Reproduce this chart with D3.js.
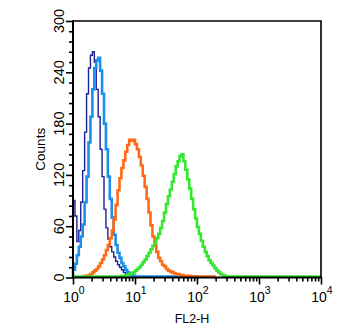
<!DOCTYPE html>
<html><head><meta charset="utf-8">
<script src="https://cdn.jsdelivr.net/npm/d3@7"></script>
<style>html,body{margin:0;padding:0;background:#fff;}svg{display:block;}</style>
</head><body>
<script>
// ---- data ----
const binWidthDecades = 1 / 32;        // histogram channel width (log10 units)
const xDecades = [0, 1, 2, 3, 4];       // 10^0 .. 10^4
const yTicks = [0, 60, 120, 180, 240, 300];
const yLabel = "Counts";
const xLabel = "FL2-H";

const navyStart = 0;
const navyCounts = [90, 72, 42, 55, 88, 125, 170, 215, 245, 260, 264, 252, 220, 188, 150, 118,
  80, 58, 45, 36, 30, 24, 19, 15, 12, 9, 6, 4, 3, 2, 2, 1, 1, 0];

const blueStart = 0;
const blueCounts = [9, 16, 26, 36, 48, 62, 88, 118, 158, 188, 220, 245, 254, 257, 242, 215,
  180, 150, 118, 92, 70, 50, 38, 29, 23, 17, 13, 9, 6, 4, 3, 2, 1, 1, 1, 1, 1, 1, 1, 1,
  1, 1, 1, 1, 1, 1, 1, 1, 1, 1, 1, 1, 1, 1, 1, 1, 1, 1, 1, 1, 1, 1, 1, 1, 0];

const orangeStart = 5;
const orangeCounts = [1, 2, 2, 3, 4, 6, 8, 10, 13, 17, 21, 26, 32, 38, 46, 55, 68, 85, 102, 116,
  128, 137, 147, 155, 161, 160, 161, 156, 150, 141, 131, 119, 106, 92, 76, 61, 48, 38, 30, 23,
  19, 15, 13, 10, 8, 7, 6, 5, 4, 4, 3, 3, 2, 2, 2, 2, 1, 1, 1, 1, 1, 1, 1, 1, 1, 1, 1, 1, 0];

const greenStart = 0;
const greenCounts = [1, 1, 1, 1, 1, 1, 1, 1, 1, 1, 1, 1, 1, 1, 1, 1, 1, 1, 1, 1, 1, 1, 1, 1, 1,
  2, 2, 3, 3, 4, 5, 6, 8, 10, 12, 15, 18, 21, 25, 29, 33, 37, 41, 46, 51, 58, 66, 76, 86, 95,
  103, 112, 121, 130, 136, 142, 144, 136, 126, 115, 104, 92, 80, 69, 59, 51, 43, 36, 30, 25,
  20, 17, 14, 11, 8, 6, 4, 3, 2, 1, 1, 1, 1, 1, 1, 1, 1, 1, 1, 1, 1, 1, 1, 1, 1, 1, 1, 1, 1,
  1, 1, 1, 1, 1, 1, 1, 1, 1, 1, 1, 1, 1, 1, 1, 1, 1, 1, 1, 1, 1, 1, 1, 1, 1, 1, 1, 1, 1];

const seriesList = [
  {name: "control", start: navyStart, counts: navyCounts, color: "#1f1f96", width: 1.4},
  {name: "isotype", start: blueStart, counts: blueCounts, color: "#1b8fea", width: 2.6},
  {name: "sample1", start: orangeStart, counts: orangeCounts, color: "#ff6a16", width: 2.6},
  {name: "sample2", start: greenStart, counts: greenCounts, color: "#33e82f", width: 2.6}
];

// ---- layout ----
const W = 350, H = 329;
const pLeft = 73, pRight = 321, pTop = 21, pBottom = 277.5;

const svg = d3.select("body").append("svg").attr("width", W).attr("height", H)
  .style("font-family", "'Liberation Sans', Arial, sans-serif");
svg.append("rect").attr("width", W).attr("height", H).attr("fill", "#fff");

const x = d3.scaleLog().domain([1, 1e4]).range([pLeft, pRight]);
const y = d3.scaleLinear().domain([0, 300]).range([pBottom, pTop]);

// histograms
const line = d3.line().x(d => x(Math.pow(10, d[0]))).y(d => y(d[1])).curve(d3.curveStepAfter);
seriesList.forEach(s => {
  const pts = [[s.start * binWidthDecades, 0]];
  s.counts.forEach((c, i) => pts.push([(s.start + i) * binWidthDecades, c]));
  const endEdge = (s.start + s.counts.length) * binWidthDecades;
  pts.push([Math.min(endEdge, 4), s.counts[s.counts.length - 1]]);
  svg.append("path").attr("d", line(pts)).attr("fill", "none")
    .attr("stroke", s.color).attr("stroke-width", s.width).attr("stroke-linejoin", "miter");
});

// frame
svg.append("path").attr("d", `M${pLeft},${pTop}H${pRight}V${pBottom}`)
  .attr("fill", "none").attr("stroke", "#000").attr("stroke-width", 1.6);

// y axis
const yAxisG = svg.append("g").attr("transform", `translate(${pLeft},0)`);
const yMinor = d3.range(0, 301, 12).filter(v => v % 60 !== 0);
yAxisG.call(d3.axisLeft(y).tickValues(yMinor).tickSize(4).tickFormat(""))
  .call(g => g.select(".domain").remove());
yAxisG.append("g").call(d3.axisLeft(y).tickValues(yTicks).tickSize(7).tickFormat(""))
  .call(g => g.select(".domain").remove());
yAxisG.selectAll("line").attr("stroke", "#000").attr("stroke-width", 1.6);
yAxisG.append("line").attr("x1", 0).attr("x2", 0).attr("y1", pTop - 0.8).attr("y2", pBottom + 0.8)
  .attr("stroke", "#000").attr("stroke-width", 2);
yTicks.forEach(v => {
  svg.append("text").attr("transform", `translate(63.5,${y(v)}) rotate(-90)`)
    .attr("text-anchor", "middle").attr("font-size", 14.5).attr("fill", "#000").text(v);
});
svg.append("text").attr("transform", `translate(45,${(pTop + pBottom) / 2}) rotate(-90)`)
  .attr("text-anchor", "middle").attr("font-size", 13.5).attr("fill", "#000").text(yLabel);

// x axis
const xAxisG = svg.append("g").attr("transform", `translate(0,${pBottom})`);
const xMinor = [];
xDecades.slice(0, -1).forEach(d => { for (let k = 2; k <= 9; k++) xMinor.push(k * Math.pow(10, d)); });
xAxisG.call(d3.axisBottom(x).tickValues(xMinor).tickSize(4).tickFormat(""))
  .call(g => g.select(".domain").remove());
xAxisG.append("g").call(d3.axisBottom(x).tickValues(xDecades.map(d => Math.pow(10, d))).tickSize(7).tickFormat(""))
  .call(g => g.select(".domain").remove());
xAxisG.selectAll("line").attr("stroke", "#000").attr("stroke-width", 1.6);
xAxisG.append("line").attr("x1", pLeft - 1).attr("x2", pRight + 0.8).attr("y1", 0).attr("y2", 0)
  .attr("stroke", "#000").attr("stroke-width", 2);
xDecades.forEach(d => {
  const t = svg.append("text").attr("x", x(Math.pow(10, d)) + 1).attr("y", 302)
    .attr("text-anchor", "middle").attr("font-size", 14).attr("fill", "#000");
  t.append("tspan").text("10");
  t.append("tspan").attr("dy", -8).attr("font-size", 10.5).text(d);
});
svg.append("text").attr("x", 192).attr("y", 323).attr("text-anchor", "middle")
  .attr("font-size", 12.5).attr("fill", "#000").text(xLabel);
</script>
</body></html>
